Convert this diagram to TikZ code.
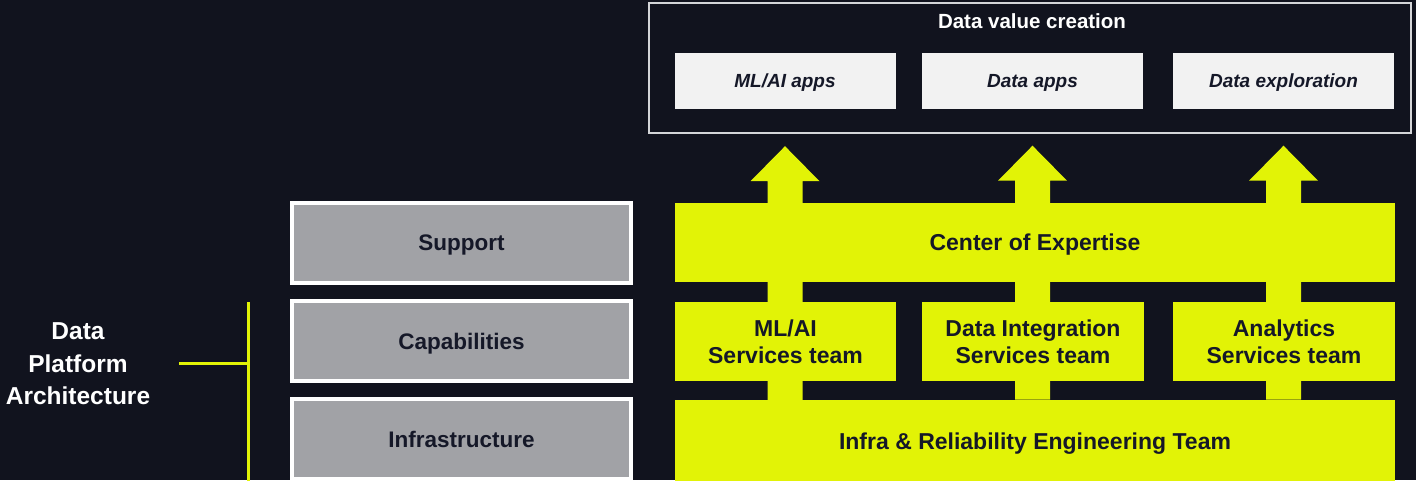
\documentclass[tikz,border=0pt]{standalone}
\usepackage{fontspec}
\setmainfont{Liberation Sans}
\usetikzlibrary{calc}
\definecolor{bgnavy}{HTML}{11131E}
\definecolor{limey}{HTML}{E2F306}
\definecolor{slate}{HTML}{A1A2A6}
\definecolor{paper}{HTML}{F2F2F2}
\definecolor{ink}{HTML}{151828}
\definecolor{rim}{HTML}{D4D5D8}

\begin{document}
\begin{tikzpicture}[x=1pt,y=-1pt,
    layer/.style={fill=slate, draw=white, line width=4pt, minimum width=339pt,
        minimum height=80pt, inner sep=0pt, text=ink, text depth=0pt,
        font=\bfseries\fontsize{22.5}{26}\selectfont},
    band/.style={fill=limey, minimum height=79pt, inner sep=0pt, text=ink,
        align=center, font=\bfseries\fontsize{23}{27}\selectfont},
    appbox/.style={fill=paper, minimum width=221pt, minimum height=56pt,
        inner sep=0pt, text=ink, text depth=0pt,
        font=\bfseries\itshape\fontsize{19}{22}\selectfont},
    bracket/.style={limey, line width=3pt}]
    \fill[bgnavy] (0,0) rectangle (1416,480);
    \useasboundingbox (0,0) rectangle (1416,480);

    % data value creation
    \node[draw=rim, fill=bgnavy, line width=2pt, minimum width=762pt,
        minimum height=130pt] (vc) at (1030,68) {};
    \node[text=white, font=\bfseries\fontsize{20.5}{24}\selectfont] (vctitle) at (1032,21) {Data value creation};
    \node[appbox] (mlapps) at (785,81) {ML/AI apps};
    \node[appbox] (dataapps) at (1032.5,80.5) {Data apps};
    \node[appbox] (explore) at (1283.5,80.5) {Data exploration};

    % arrows up to the apps
    \foreach \n in {mlapps,dataapps,explore}
        \fill[limey] (\n.south) ++(0,37) coordinate (tip) -- ++(34.5,35) -- ++(-17,0)
            -- ++(0,219) -- ++(-35,0) -- ++(0,-219) -- ++(-17,0) -- cycle;

    % left stack
    \node[layer] (support) at (461.5,243) {Support};
    \node[layer] (capab) at (461.5,341) {Capabilities};
    \node[layer] (infra) at (461.5,439) {Infrastructure};

    % teams
    \node[band, minimum width=720pt, text depth=0pt] (coe) at (1035,242.5) {Center of Expertise};
    \node[band, minimum width=221pt] (mlteam) at (785.5,341.5) {ML/AI\\Services team};
    \node[band, minimum width=222pt] (diteam) at (1033,341.5) {Data Integration\\Services team};
    \node[band, minimum width=222pt] (anteam) at (1284,341.5) {Analytics\\Services team};
    \node[band, minimum width=720pt, minimum height=82pt, text depth=0pt] (ireteam) at (1035,441) {Infra \& Reliability Engineering Team};

    % bracket
    \node[align=center, text=white, font=\bfseries\fontsize{24.5}{32.5}\selectfont] (dpa) at (78,364) {Data\\Platform\\Architecture};
    \coordinate (brace) at (248,363);
    \draw[bracket] (179,363) -- (brace);
    \draw[bracket] (248,302) -- (248,482);
\end{tikzpicture}
\end{document}
